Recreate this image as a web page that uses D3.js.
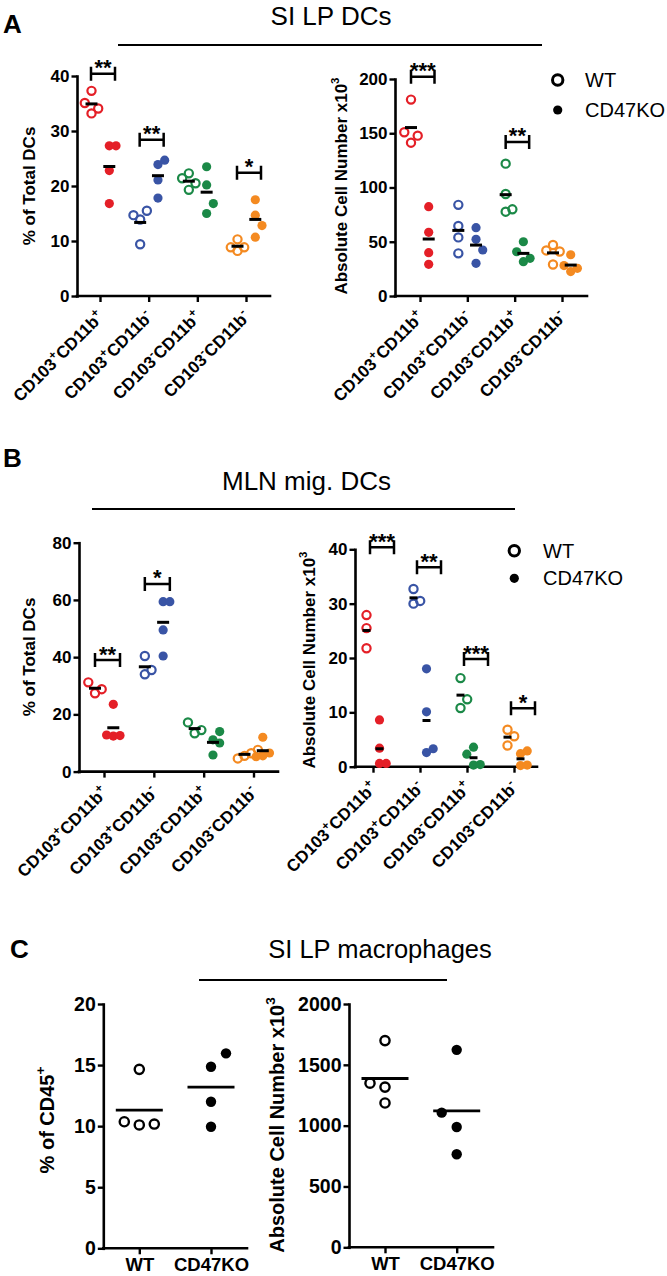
<!DOCTYPE html>
<html><head><meta charset="utf-8">
<script src="https://cdn.jsdelivr.net/npm/d3@7"></script>
<style>
body{margin:0;background:#fff;}
svg{display:block;font-family:"Liberation Sans",Arial,Helvetica,sans-serif;}
</style></head><body>
<svg id="chart" width="667" height="1276"></svg>
<script>
// ---------------- DATA ----------------
const categories = ["CD103+CD11b+", "CD103+CD11b-", "CD103-CD11b+", "CD103-CD11b-"];
const categoryParts = [["CD103","+","CD11b","+"],["CD103","+","CD11b","-"],["CD103","-","CD11b","+"],["CD103","-","CD11b","-"]];
const categoryColors = ["#e41f27", "#3954a5", "#1b8947", "#f48a21"];
const genotypes = ["WT", "CD47KO"];

// Panel A (SI LP DCs) - % of total DCs
const aPctWT = [[37.3,33.2,34.1,35.1],[13.9,15.5,14.7,9.4],[22.3,19.3,20.5,21.4],[8.2,10.3,8.85,8.85]];
const aPctKO = [[27.3,27.3,22.8,16.8],[23.9,24.7,21.1,17.8],[23.5,20.2,15.0,16.8],[14.7,10.7,12.8,17.5]];
const aPctSig = ["**","**","","*"];
const aPctSigLevel = [40.4,28.4,null,22.4];
const aPctTicks = [0,10,20,30,40];
// Panel A - absolute cell number x10^3
const aAbsWT = [[181,141.3,147.8,150.9],[84,64.5,54,39.3],[122,94,77.7,79.9],[47,29,41,42]];
const aAbsKO = [[82.3,58.7,39.9,29.2],[63,52.2,42.4,30.1],[50,31.6,34.7,40.8],[38,22.5,25.5,28]];
const aAbsSig = ["***","","**",""];
const aAbsSigLevel = [202,null,142,null];
const aAbsTicks = [0,50,100,150,200];

// Panel B (MLN mig. DCs) - % of total DCs
const bPctWT = [[27.4,28.8,31.2],[34.0,35.5,40.4],[13.4,14.5,17.2],[5.5,6.4,4.6,7.6]];
const bPctKO = [[23.5,12.4,12.6,12.8],[59.4,59.4,49.5,40.4],[5.8,11.1,10.0,14.0],[12.0,5.5,6.5,5.2]];
const bPctSig = ["**","*","",""];
const bPctSigLevel = [39,65.6,null,null];
const bPctTicks = [0,20,40,60,80];
// Panel B - absolute cell number x10^3
const bAbsWT = [[27.9,25.5,21.8],[30.0,30.5,32.7],[16.3,10.8,12.4],[3.9,6.8,5.6]];
const bAbsKO = [[8.6,3.4,0.6,0.6],[18.0,10.1,2.6,3.3],[0.3,0.4,2.3,3.6],[0.2,0.3,2.4,2.9]];
const bAbsSig = ["***","**","***","*"];
const bAbsSigLevel = [40.4,36.7,19.8,10.75];
const bAbsTicks = [0,10,20,30,40];

// Panel C (SI LP macrophages)
const cPctWT = [14.65,10.1,10.17,10.36];
const cPctKO = [14.86,12.0,9.95,15.96];
const cPctTicks = [0,5,10,15,20];
const cAbsWT = [1699,1186,1317,1349];
const cAbsKO = [1623,989,765,1107];
const cAbsTicks = [0,500,1000,1500,2000];

// ---------------- DRAWING ----------------
const svg = d3.select("#chart");

function swarm(vals, yScale, center, step, rowH, pref) {
  const placed = [];
  vals.forEach(v => {
    const py = yScale(v);
    for (const k of pref) {
      if (!placed.some(p => p.k === k && Math.abs(p.y - py) < rowH)) {
        placed.push({k: k, x: center + k * step, y: py, v: v});
        break;
      }
    }
  });
  return placed;
}

function styleAxis(sel, fs) {
  sel.selectAll(".domain").attr("stroke", "#000").attr("stroke-width", 2.6).attr("stroke-linecap", "square");
  sel.selectAll(".tick line").attr("stroke", "#000").attr("stroke-width", 2.4);
  sel.selectAll(".tick text").attr("fill", "#000").attr("font-size", fs).attr("font-weight", "bold")
     .attr("font-family", "'Liberation Sans', Arial, sans-serif");
}

function vLabel(x, y, main, sup, fs) {
  const t = svg.append("text").attr("transform", `translate(${x},${y}) rotate(-90)`)
    .attr("text-anchor", "middle").attr("font-size", fs).attr("font-weight", "bold").attr("fill", "#000");
  t.append("tspan").text(main);
  if (sup) t.append("tspan").attr("font-size", fs * 0.68).attr("dy", -fs * 0.45).text(sup);
}

function catLabel(x, y, parts, fs) {
  const t = svg.append("text").attr("transform", `translate(${x},${y}) rotate(-45)`)
    .attr("text-anchor", "end").attr("font-size", fs).attr("font-weight", "bold").attr("fill", "#000");
  t.append("tspan").text(parts[0]);
  t.append("tspan").attr("font-size", fs * 0.7).attr("dy", -fs * 0.42).text(parts[1]);
  t.append("tspan").attr("dy", fs * 0.42).text(parts[2]);
  t.append("tspan").attr("font-size", fs * 0.7).attr("dy", -fs * 0.42).text(parts[3]);
}

function drawPanel(cfg) {
  const y = d3.scaleLinear().domain([0, cfg.yMax]).range([cfg.yBottom, cfg.yTop]);
  const x = d3.scalePoint().domain(cfg.cats).range([cfg.tick0, cfg.tick1]);

  const ya = svg.append("g").attr("transform", `translate(${cfg.x0},0)`)
    .call(d3.axisLeft(y).tickValues(cfg.yTicks).tickFormat(d3.format("d")).tickSize(5.5).tickPadding(2).tickSizeOuter(0));
  styleAxis(ya, cfg.tickFs);

  const xa = svg.append("g").attr("transform", `translate(0,${cfg.yBottom})`)
    .call(d3.axisBottom(x).tickSize(6).tickPadding(cfg.xPad || 3).tickSizeOuter(0));
  xa.select(".domain").attr("d", `M${cfg.x0},0H${cfg.x1}`);
  styleAxis(xa, cfg.xFs || cfg.tickFs);
  if (!cfg.showXText) xa.selectAll(".tick text").remove();

  let groups;
  if (cfg.single) {
    groups = [
      {vals: cfg.wt, open: true, center: x(cfg.cats[0]), color: cfg.colors[0]},
      {vals: cfg.ko, open: false, center: x(cfg.cats[1]), color: cfg.colors[1]}
    ];
  } else {
    groups = cfg.wt.map((w, i) => [
      {vals: w, open: true, center: x(cfg.cats[i]) + cfg.wtOff, color: cfg.colors[i]},
      {vals: cfg.ko[i], open: false, center: x(cfg.cats[i]) + cfg.koOff, color: cfg.colors[i]}
    ]).flat();
  }

  groups.forEach(gr => {
    const pts = swarm(gr.vals, y, gr.center, cfg.step, cfg.rowH, cfg.pref);
    svg.append("g").selectAll("circle").data(pts).join("circle")
      .attr("cx", d => d.x).attr("cy", d => d.y)
      .attr("r", gr.open ? cfg.rOpen : cfg.rFill)
      .attr("fill", gr.open ? "none" : gr.color)
      .attr("stroke", gr.open ? gr.color : "none")
      .attr("stroke-width", gr.open ? cfg.sw : 0);
  });
  groups.forEach(gr => {
    const m = d3.mean(gr.vals);
    svg.append("line").attr("x1", gr.center - cfg.meanW / 2).attr("x2", gr.center + cfg.meanW / 2)
      .attr("y1", y(m)).attr("y2", y(m)).attr("stroke", "#000").attr("stroke-width", cfg.meanSw);
  });

  if (cfg.sig) {
    cfg.sig.forEach((s, i) => {
      if (!s) return;
      const by = y(cfg.sigLevel[i]);
      const bx0 = x(cfg.cats[i]) + cfg.brDx[0], bx1 = x(cfg.cats[i]) + cfg.brDx[1];
      svg.append("path").attr("d", `M${bx0},${by - 7}V${by + 7}M${bx0},${by}H${bx1}M${bx1},${by - 7}V${by + 7}`)
        .attr("fill", "none").attr("stroke", "#000").attr("stroke-width", 2.5);
      svg.append("text").attr("x", (bx0 + bx1) / 2).attr("y", by + 1.5).attr("text-anchor", "middle")
        .attr("font-size", 22).attr("font-weight", "bold").attr("fill", "#000").text(s);
    });
  }

  if (cfg.catLabels) {
    cfg.cats.forEach((c, i) => catLabel(x(c) + 5, cfg.yBottom + 22, cfg.catLabels[i], 17));
  }
}

function legend(cx, cy1, cy2, tx) {
  svg.append("circle").attr("cx", cx).attr("cy", cy1).attr("r", 5.2).attr("fill", "none").attr("stroke", "#000").attr("stroke-width", 3);
  svg.append("circle").attr("cx", cx).attr("cy", cy2).attr("r", 4.6).attr("fill", "#000");
  svg.append("text").attr("x", tx).attr("y", cy1 + 7).attr("font-size", 20).attr("fill", "#000").text(genotypes[0]);
  svg.append("text").attr("x", tx).attr("y", cy2 + 7).attr("font-size", 20).attr("fill", "#000").text(genotypes[1]);
}

function title(txt, cx, by, fs, lx0, lx1, ly) {
  svg.append("text").attr("x", cx).attr("y", by).attr("text-anchor", "middle").attr("font-size", fs).attr("fill", "#000").text(txt);
  svg.append("line").attr("x1", lx0).attr("x2", lx1).attr("y1", ly).attr("y2", ly).attr("stroke", "#000").attr("stroke-width", 2.2);
}
function letter(t, x, y) {
  svg.append("text").attr("x", x).attr("y", y).attr("font-size", 26).attr("font-weight", "bold").attr("fill", "#000").text(t);
}

const common = {cats: categories, colors: categoryColors, step: 6.7, rowH: 11, pref: [0,1,-1,2,-2,3,-3],
  rOpen: 4.1, rFill: 4.6, sw: 2.2, meanW: 12, meanSw: 3, tickFs: 17, catLabels: categoryParts};

// ---- Panel A ----
letter("A", 3, 33);
title("SI LP DCs", 331, 25, 26, 118, 542, 45);
drawPanel(Object.assign({}, common, {x0: 77, x1: 270, tick0: 100, tick1: 246, yTop: 76, yBottom: 296, yMax: 40,
  yTicks: aPctTicks, wt: aPctWT, ko: aPctKO, wtOff: -8.5, koOff: 9.3, sig: aPctSig, sigLevel: aPctSigLevel, brDx: [-9, 15]}));
vLabel(34.5, 186, "% of Total DCs", null, 17);
drawPanel(Object.assign({}, common, {x0: 395, x1: 587, tick0: 420, tick1: 562, yTop: 79, yBottom: 296, yMax: 200,
  yTicks: aAbsTicks, wt: aAbsWT, ko: aAbsKO, wtOff: -9, koOff: 8.7, sig: aAbsSig, sigLevel: aAbsSigLevel, brDx: [-9, 14.5]}));
vLabel(346.5, 186, "Absolute Cell Number x10", "3", 17);
legend(557.7, 80, 110, 585);

// ---- Panel B ----
letter("B", 3, 467);
title("MLN mig. DCs", 306.5, 490, 26, 92, 515, 509);
drawPanel(Object.assign({}, common, {x0: 79, x1: 278, tick0: 104, tick1: 253.5, yTop: 542.7, yBottom: 771.6, yMax: 80,
  yTicks: bPctTicks, wt: bPctWT, ko: bPctKO, wtOff: -9, koOff: 9.3, sig: bPctSig, sigLevel: bPctSigLevel, brDx: [-9, 16]}));
vLabel(35, 657, "% of Total DCs", null, 17);
drawPanel(Object.assign({}, common, {x0: 355, x1: 537, tick0: 373, tick1: 514, yTop: 549.3, yBottom: 766.7, yMax: 40,
  yTicks: bAbsTicks, wt: bAbsWT, ko: bAbsKO, wtOff: -6.5, koOff: 6.5, meanW: 8, sig: bAbsSig, sigLevel: bAbsSigLevel, brDx: [-3, 21]}));
vLabel(315, 660, "Absolute Cell Number x10", "3", 17);
legend(514.3, 550.7, 578.3, 543);

// ---- Panel C ----
letter("C", 10, 958);
title("SI LP macrophages", 380, 958, 25.5, 199, 447, 980);
const cCommon = {cats: genotypes, colors: ["#000", "#000"], single: true, step: 15, rowH: 15, rOpen: 4.6, rFill: 5.2, sw: 2.4,
  meanW: 47, meanSw: 2.8, tickFs: 19.5, xFs: 18.5, xPad: 4, showXText: true};
drawPanel(Object.assign({}, cCommon, {x0: 103.3, x1: 247, tick0: 139.3, tick1: 211, yTop: 1004, yBottom: 1248.3, yMax: 20,
  yTicks: cPctTicks, wt: cPctWT, ko: cPctKO, pref: [0,1,-1,2,-2]}));
vLabel(54, 1120, "% of CD45", "+", 20);
drawPanel(Object.assign({}, cCommon, {x0: 349, x1: 493, tick0: 385, tick1: 456.7, yTop: 1004, yBottom: 1247.3, yMax: 2000,
  yTicks: cAbsTicks, wt: cAbsWT, ko: cAbsKO, pref: [0,-1,1,-2,2]}));
vLabel(284, 1125, "Absolute Cell Number x10", "3", 20);
</script>
</body></html>
